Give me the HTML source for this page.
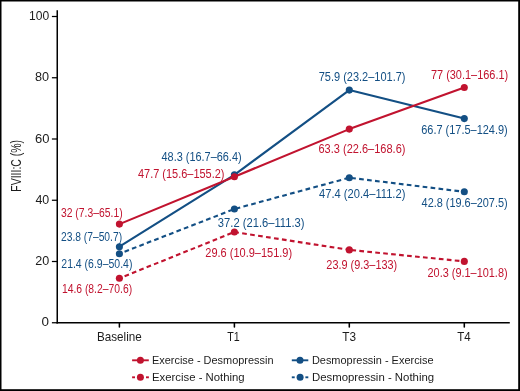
<!DOCTYPE html>
<html><head><meta charset="utf-8"><style>
html,body{margin:0;padding:0;background:#fff;}
svg{display:block;will-change:transform;}
text{font-family:"Liberation Sans",sans-serif;}
</style></head><body>
<svg width="520" height="391" viewBox="0 0 520 391">
<rect width="520" height="391" fill="#fff"/>
<rect x="0" y="0" width="1.5" height="391" fill="#000"/><rect x="0" y="0" width="520" height="1.5" fill="#000"/><rect x="518.2" y="0" width="1.8" height="391" fill="#000"/><rect x="0" y="389.2" width="520" height="1.8" fill="#000"/>
<g stroke="#000" fill="none">
<line x1="57.25" y1="10.3" x2="57.25" y2="323.5" stroke-width="1.5"/>
<line x1="56.5" y1="322.8" x2="509.8" y2="322.8" stroke-width="1.6"/>
<line x1="51.9" y1="322.75" x2="57.2" y2="322.75" stroke-width="1.25"/>
<line x1="51.9" y1="261.50" x2="57.2" y2="261.50" stroke-width="1.25"/>
<line x1="51.9" y1="200.25" x2="57.2" y2="200.25" stroke-width="1.25"/>
<line x1="51.9" y1="139.00" x2="57.2" y2="139.00" stroke-width="1.25"/>
<line x1="51.9" y1="77.75" x2="57.2" y2="77.75" stroke-width="1.25"/>
<line x1="51.9" y1="16.50" x2="57.2" y2="16.50" stroke-width="1.25"/>
<line x1="119.4" y1="322.7" x2="119.4" y2="327.0" stroke-width="1.55" stroke-linecap="round"/>
<line x1="234.4" y1="322.7" x2="234.4" y2="327.0" stroke-width="1.55" stroke-linecap="round"/>
<line x1="349.3" y1="322.7" x2="349.3" y2="327.0" stroke-width="1.55" stroke-linecap="round"/>
<line x1="464.3" y1="322.7" x2="464.3" y2="327.0" stroke-width="1.55" stroke-linecap="round"/>
</g>
<line x1="119.4" y1="253.7" x2="234.4" y2="209.0" stroke="#134f84" stroke-width="2.1" stroke-dasharray="4.7 3.256" stroke-dashoffset="2.416"/>
<line x1="234.4" y1="209.0" x2="349.3" y2="177.7" stroke="#134f84" stroke-width="2.1" stroke-dasharray="4.7 3.350" stroke-dashoffset="6.750"/>
<line x1="349.3" y1="177.7" x2="464.3" y2="191.8" stroke="#134f84" stroke-width="2.1" stroke-dasharray="4.7 3.300" stroke-dashoffset="6.100"/>
<circle cx="119.4" cy="253.7" r="3.55" fill="#134f84"/>
<circle cx="234.4" cy="209.0" r="3.55" fill="#134f84"/>
<circle cx="349.3" cy="177.7" r="3.55" fill="#134f84"/>
<circle cx="464.3" cy="191.8" r="3.55" fill="#134f84"/>
<line x1="119.4" y1="278.3" x2="234.4" y2="232.0" stroke="#c1132f" stroke-width="2.1" stroke-dasharray="4.7 3.214" stroke-dashoffset="2.324"/>
<line x1="234.4" y1="232.0" x2="349.3" y2="249.9" stroke="#c1132f" stroke-width="2.1" stroke-dasharray="4.7 3.350" stroke-dashoffset="0.200"/>
<line x1="349.3" y1="249.9" x2="464.3" y2="261.4" stroke="#c1132f" stroke-width="2.1" stroke-dasharray="4.7 3.290" stroke-dashoffset="5.890"/>
<circle cx="119.4" cy="278.3" r="3.55" fill="#c1132f"/>
<circle cx="234.4" cy="232.0" r="3.55" fill="#c1132f"/>
<circle cx="349.3" cy="249.9" r="3.55" fill="#c1132f"/>
<circle cx="464.3" cy="261.4" r="3.55" fill="#c1132f"/>
<path d="M119.4,246.7 L234.4,174.8 L349.3,90.1 L464.3,118.6" fill="none" stroke="#134f84" stroke-width="2.1" stroke-linejoin="round"/>
<circle cx="119.4" cy="246.7" r="3.55" fill="#134f84"/>
<circle cx="234.4" cy="174.8" r="3.55" fill="#134f84"/>
<circle cx="349.3" cy="90.1" r="3.55" fill="#134f84"/>
<circle cx="464.3" cy="118.6" r="3.55" fill="#134f84"/>
<path d="M119.4,224.1 L234.4,176.7 L349.3,129.1 L464.3,87.5" fill="none" stroke="#c1132f" stroke-width="2.1" stroke-linejoin="round"/>
<circle cx="119.4" cy="224.1" r="3.55" fill="#c1132f"/>
<circle cx="234.4" cy="176.7" r="3.55" fill="#c1132f"/>
<circle cx="349.3" cy="129.1" r="3.55" fill="#c1132f"/>
<circle cx="464.3" cy="87.5" r="3.55" fill="#c1132f"/>
<line x1="132.1" y1="360.3" x2="148.8" y2="360.3" stroke="#c1132f" stroke-width="1.9"/>
<circle cx="140.4" cy="360.3" r="3.5" fill="#c1132f"/>
<line x1="132.1" y1="377.3" x2="135.0" y2="377.3" stroke="#c1132f" stroke-width="1.9"/>
<line x1="146.0" y1="377.3" x2="148.9" y2="377.3" stroke="#c1132f" stroke-width="1.9"/>
<circle cx="140.4" cy="377.3" r="3.5" fill="#c1132f"/>
<line x1="291.8" y1="360.3" x2="308.3" y2="360.3" stroke="#134f84" stroke-width="1.9"/>
<circle cx="300.0" cy="360.3" r="3.5" fill="#134f84"/>
<line x1="291.8" y1="377.3" x2="294.7" y2="377.3" stroke="#134f84" stroke-width="1.9"/>
<line x1="305.40000000000003" y1="377.3" x2="308.3" y2="377.3" stroke="#134f84" stroke-width="1.9"/>
<circle cx="300.1" cy="377.3" r="3.5" fill="#134f84"/>
<text x="60.98" y="217.10" font-size="12.00" fill="#c1132f" textLength="61.62" lengthAdjust="spacingAndGlyphs">32 (7.3–65.1)</text>
<text x="138.00" y="178.40" font-size="12.00" fill="#c1132f" textLength="86.45" lengthAdjust="spacingAndGlyphs">47.7 (15.6–155.2)</text>
<text x="318.51" y="153.00" font-size="12.00" fill="#c1132f" textLength="86.93" lengthAdjust="spacingAndGlyphs">63.3 (22.6–168.6)</text>
<text x="430.95" y="78.80" font-size="12.00" fill="#c1132f" textLength="77.23" lengthAdjust="spacingAndGlyphs">77 (30.1–166.1)</text>
<text x="61.89" y="292.90" font-size="12.00" fill="#c1132f" textLength="70.26" lengthAdjust="spacingAndGlyphs">14.6 (8.2–70.6)</text>
<text x="205.28" y="256.60" font-size="12.00" fill="#c1132f" textLength="86.90" lengthAdjust="spacingAndGlyphs">29.6 (10.9–151.9)</text>
<text x="326.37" y="268.92" font-size="12.00" fill="#c1132f" textLength="70.82" lengthAdjust="spacingAndGlyphs">23.9 (9.3–133)</text>
<text x="427.53" y="277.46" font-size="12.00" fill="#c1132f" textLength="80.07" lengthAdjust="spacingAndGlyphs">20.3 (9.1–101.8)</text>
<text x="60.97" y="240.65" font-size="12.00" fill="#134f84" textLength="61.11" lengthAdjust="spacingAndGlyphs">23.8 (7–50.7)</text>
<text x="61.31" y="267.85" font-size="12.00" fill="#134f84" textLength="71.12" lengthAdjust="spacingAndGlyphs">21.4 (6.9–50.4)</text>
<text x="161.50" y="161.40" font-size="12.00" fill="#134f84" textLength="80.12" lengthAdjust="spacingAndGlyphs">48.3 (16.7–66.4)</text>
<text x="217.85" y="226.50" font-size="12.00" fill="#134f84" textLength="86.69" lengthAdjust="spacingAndGlyphs">37.2 (21.6–111.3)</text>
<text x="318.74" y="80.80" font-size="12.00" fill="#134f84" textLength="86.77" lengthAdjust="spacingAndGlyphs">75.9 (23.2–101.7)</text>
<text x="319.04" y="198.45" font-size="12.00" fill="#134f84" textLength="86.33" lengthAdjust="spacingAndGlyphs">47.4 (20.4–111.2)</text>
<text x="421.25" y="134.00" font-size="12.00" fill="#134f84" textLength="86.47" lengthAdjust="spacingAndGlyphs">66.7 (17.5–124.9)</text>
<text x="421.60" y="207.10" font-size="12.00" fill="#134f84" textLength="86.01" lengthAdjust="spacingAndGlyphs">42.8 (19.6–207.5)</text>
<text x="28.97" y="20.17" font-size="12.90" fill="#1c1c1c" textLength="20.12" lengthAdjust="spacingAndGlyphs">100</text>
<text x="35.06" y="81.12" font-size="12.90" fill="#1c1c1c" textLength="14.08" lengthAdjust="spacingAndGlyphs">80</text>
<text x="35.14" y="142.81" font-size="12.90" fill="#1c1c1c" textLength="14.44" lengthAdjust="spacingAndGlyphs">60</text>
<text x="35.38" y="203.87" font-size="12.90" fill="#1c1c1c" textLength="13.81" lengthAdjust="spacingAndGlyphs">40</text>
<text x="35.18" y="264.51" font-size="12.90" fill="#1c1c1c" textLength="13.98" lengthAdjust="spacingAndGlyphs">20</text>
<text x="41.64" y="326.02" font-size="12.90" fill="#1c1c1c" textLength="7.47" lengthAdjust="spacingAndGlyphs">0</text>
<text x="97.03" y="340.80" font-size="12.60" fill="#1c1c1c" textLength="44.67" lengthAdjust="spacingAndGlyphs">Baseline</text>
<text x="227.24" y="340.60" font-size="12.60" fill="#1c1c1c" textLength="12.45" lengthAdjust="spacingAndGlyphs">T1</text>
<text x="342.22" y="340.61" font-size="12.60" fill="#1c1c1c" textLength="13.77" lengthAdjust="spacingAndGlyphs">T3</text>
<text x="457.22" y="341.18" font-size="12.60" fill="#1c1c1c" textLength="13.44" lengthAdjust="spacingAndGlyphs">T4</text>
<text x="152.00" y="364.00" font-size="11.60" fill="#1c1c1c" textLength="121.48" lengthAdjust="spacingAndGlyphs">Exercise - Desmopressin</text>
<text x="152.00" y="381.00" font-size="11.60" fill="#1c1c1c" textLength="92.67" lengthAdjust="spacingAndGlyphs">Exercise - Nothing</text>
<text x="311.89" y="364.00" font-size="11.60" fill="#1c1c1c" textLength="121.73" lengthAdjust="spacingAndGlyphs">Desmopressin - Exercise</text>
<text x="311.91" y="381.00" font-size="11.60" fill="#1c1c1c" textLength="122.22" lengthAdjust="spacingAndGlyphs">Desmopressin - Nothing</text>
<text x="20.63" y="191.70" font-size="13.90" fill="#1c1c1c" textLength="51.82" lengthAdjust="spacingAndGlyphs" transform="rotate(-90 20.63 191.70)">FVIII:C (%)</text>
</svg>
</body></html>
